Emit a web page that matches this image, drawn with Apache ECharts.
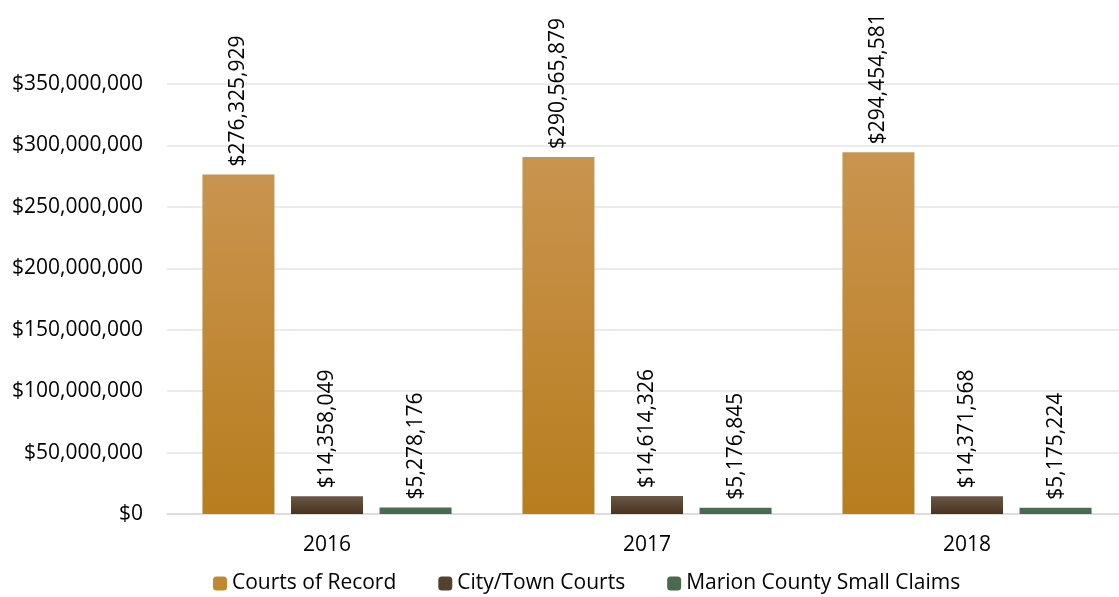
<!DOCTYPE html>
<html><head><meta charset="utf-8">
<script src="https://cdn.jsdelivr.net/npm/echarts@6/dist/echarts.min.js"></script>
<style>html,body{margin:0;padding:0;background:#fff;overflow:hidden}#c{width:1135px;height:597px}</style>
</head><body><div id="c"></div>
<script>
const categories = ['2016', '2017', '2018'];
const seriesNames = ['Courts of Record', 'City/Town Courts', 'Marion County Small Claims'];
const courtsOfRecord = [276325929, 290565879, 294454581];
const cityTownCourts = [14358049, 14614326, 14371568];
const marionSmallClaims = [5278176, 5176845, 5175224];
const yTicks = [0, 50000000, 100000000, 150000000, 200000000, 250000000, 300000000, 350000000];

const FONT = 'Open Sans';
const FS = 21;
const fmt = v => '$' + Math.round(v).toLocaleString('en-US');
const grad = (a, b) => new echarts.graphic.LinearGradient(0, 0, 0, 1, [{offset: 0, color: a}, {offset: 1, color: b}]);
const colors = [grad('#C9944F', '#B87D1E'), grad('#6A5848', '#4A321E'), grad('#4C6E54', '#46664D')];
const legendColors = ['#C0892F', '#54402E', '#4A6A50'];

const chart = echarts.init(document.getElementById('c'));
const mk = (name, data, i) => ({
  name, type: 'bar', data, barWidth: 72, barGap: '23%',
  itemStyle: {color: colors[i]},
  label: {show: true, position: 'top', rotate: 90, align: 'left', verticalAlign: 'middle', distance: 8,
    formatter: p => fmt(p.value), fontFamily: FONT, fontSize: FS, color: '#000'}
});
chart.setOption({
  animation: false,
  textStyle: {fontFamily: FONT},
  grid: {left: 167, width: 960, top: 84, height: 430, containLabel: false},
  legend: {top: 568, left: 208, itemWidth: 14, itemHeight: 14, itemGap: 42,
    textStyle: {fontFamily: FONT, fontSize: FS, color: '#000'},
    data: seriesNames.map((n, i) => ({name: n, itemStyle: {color: legendColors[i]}}))},
  xAxis: {type: 'category', data: categories,
    axisLine: {lineStyle: {color: '#D9D9D9', width: 1.5}}, axisTick: {show: false},
    axisLabel: {fontFamily: FONT, fontSize: FS, color: '#000', margin: 21}},
  yAxis: {type: 'value', min: 0, max: 350000000, interval: 50000000,
    axisLine: {show: false}, axisTick: {show: false},
    splitLine: {lineStyle: {color: '#E1E5EA', width: 1.5}},
    axisLabel: {fontFamily: FONT, fontSize: FS, color: '#000', margin: 24,
      formatter: v => yTicks.includes(v) ? fmt(v) : ''}},
  series: [mk(seriesNames[0], courtsOfRecord, 0), mk(seriesNames[1], cityTownCourts, 1), mk(seriesNames[2], marionSmallClaims, 2)]
});
</script></body></html>
